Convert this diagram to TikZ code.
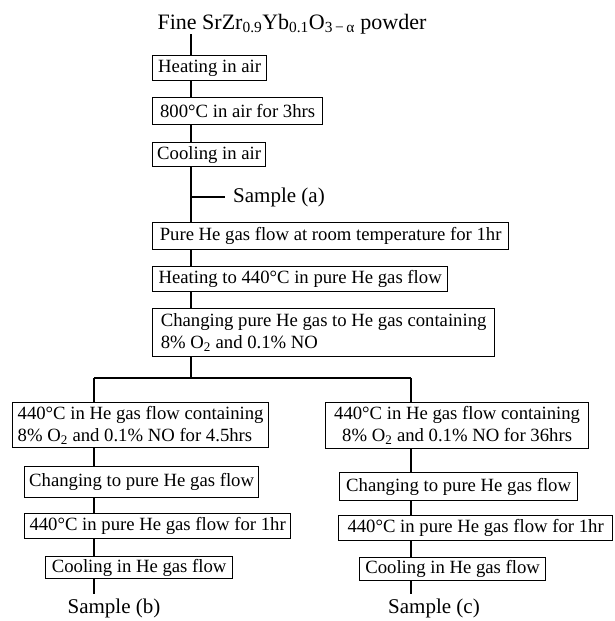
\documentclass[tikz,border=0pt]{standalone}
\usepackage{fontspec}
\setmainfont{Liberation Serif}
\begin{document}
\begin{tikzpicture}[x=1pt,y=-1pt,
  box/.style={draw, line width=1.25pt, inner xsep=3pt, inner ysep=1pt,
    font=\fontsize{18.7}{22}\selectfont, anchor=north west, align=left},
  lnk/.style={line width=1.25pt},
  lbl/.style={font=\fontsize{21}{23}\selectfont, inner sep=0pt}]
\useasboundingbox (0,0) rectangle (614,621);
% column coordinates
\coordinate (mx) at (191,0);
\coordinate (lx) at (94,378);
\coordinate (rx) at (411,378);
\coordinate (split) at (191,378);
\coordinate (ta) at (191,197);
\coordinate (eb) at (94,594);
\coordinate (ec) at (411,594);
% title
\node[lbl, font=\fontsize{22}{24}\selectfont] (title) at (292,24)
  {Fine SrZr\textsubscript{0.9}Yb\textsubscript{0.1}O\textsubscript{3\,−\,α} powder};
% main column
\node[box, minimum width=114, minimum height=25] (b1) at (152,55) {Heating in air};
\node[box, minimum width=170, minimum height=27] (b2) at (152,97) {800°C in air for 3hrs};
\node[box, minimum width=113, minimum height=24] (b3) at (152,142) {Cooling in air};
\node[lbl, anchor=west] (sa) at (233,197) {Sample (a)};
\node[box, minimum width=356, minimum height=27] (b4) at (152,222) {Pure He gas flow at room temperature for 1hr};
\node[box, minimum width=295, minimum height=25] (b5) at (152,266) {Heating to 440°C in pure He gas flow};
\node[box, minimum width=342, minimum height=48] (b6) at (152,308)
  {Changing pure He gas to He gas containing\\8\% O\textsubscript{2} and 0.1\% NO};
% left branch
\node[box, minimum width=256, minimum height=45] (l1) at (12,402)
  {440°C in He gas flow containing\\8\% O\textsubscript{2} and 0.1\% NO for 4.5hrs};
\node[box, minimum width=234, minimum height=31] (l2) at (24,466) {Changing to pure He gas flow};
\node[box, minimum width=266, minimum height=25] (l3) at (24,513) {440°C in pure He gas flow for 1hr};
\node[box, minimum width=187, minimum height=22] (l4) at (45,556) {Cooling in He gas flow};
\node[lbl] (sb) at (114,608) {Sample (b)};
% right branch
\node[box, minimum width=263, minimum height=46, align=center] (r1) at (325,402)
  {440°C in He gas flow containing\\8\% O\textsubscript{2} and 0.1\% NO for 36hrs};
\node[box, minimum width=238, minimum height=28] (r2) at (339,472) {Changing to pure He gas flow};
\node[box, minimum width=274, minimum height=25] (r3) at (338,515) {440°C in pure He gas flow for 1hr};
\node[box, minimum width=186, minimum height=23] (r4) at (359,557) {Cooling in He gas flow};
\node[lbl] (sc) at (434,608) {Sample (c)};
% connectors
\draw[lnk] (title.south -| mx) -- (b1.north -| mx);
\draw[lnk] (b1.south -| mx) -- (b2.north -| mx);
\draw[lnk] (b2.south -| mx) -- (b3.north -| mx);
\draw[lnk] (b3.south -| mx) -- (b4.north -| mx);
\draw[lnk] (ta) -- ([xshift=-8pt]sa.west);
\draw[lnk] (b4.south -| mx) -- (b5.north -| mx);
\draw[lnk] (b5.south -| mx) -- (b6.north -| mx);
\draw[lnk] (b6.south -| mx) -- (split);
\draw[lnk] (lx) -- (rx);
\draw[lnk] (lx) -- (l1.north -| lx);
\draw[lnk] (rx) -- (r1.north -| rx);
\draw[lnk] (l1.south -| lx) -- (l2.north -| lx);
\draw[lnk] (l2.south -| lx) -- (l3.north -| lx);
\draw[lnk] (l3.south -| lx) -- (l4.north -| lx);
\draw[lnk] (l4.south -| lx) -- (eb);
\draw[lnk] (r1.south -| rx) -- (r2.north -| rx);
\draw[lnk] (r2.south -| rx) -- (r3.north -| rx);
\draw[lnk] (r3.south -| rx) -- (r4.north -| rx);
\draw[lnk] (r4.south -| rx) -- (ec);
\end{tikzpicture}
\end{document}
